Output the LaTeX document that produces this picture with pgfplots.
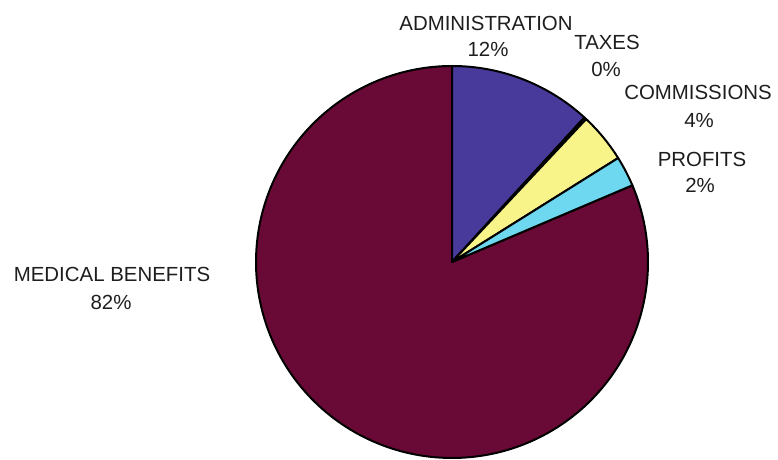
\documentclass[border=0pt]{standalone}
\usepackage{pgfplots}
\pgfplotsset{compat=1.18}
\usepackage{fontspec}
\setmainfont{Liberation Sans}
\definecolor{cMed}{HTML}{680A35}
\definecolor{cAdm}{HTML}{483A9A}
\definecolor{cCom}{HTML}{F8F48A}
\definecolor{cPro}{HTML}{6ED8F0}
\definecolor{cTxt}{HTML}{1E1E1E}
% slice values (percent)
\def\vAdm{11.8}
\def\vTax{0.2}
\def\vCom{4.1}
\def\vPro{2.5}
\def\vMed{81.4}
\pgfmathsetmacro{\aA}{90}
\pgfmathsetmacro{\aB}{\aA-3.6*\vAdm}
\pgfmathsetmacro{\aC}{\aB-3.6*\vTax}
\pgfmathsetmacro{\aD}{\aC-3.6*\vCom}
\pgfmathsetmacro{\aE}{\aD-3.6*\vPro}
\pgfmathsetmacro{\aF}{\aE-3.6*\vMed}
\def\cx{452}\def\cy{198}\def\rr{196}
\begin{document}
\begin{tikzpicture}
\begin{axis}[width=778bp, height=460bp, scale only axis,
  xmin=0, xmax=778, ymin=0, ymax=460, hide axis, clip=false]
\path (rel axis cs:0,0) rectangle (rel axis cs:1,1);
\addplot[fill=cMed, draw=black, line width=2pt, line join=round, domain=\aF:\aE, samples=200, variable=\t]
  ({\cx+\rr*cos(\t)},{\cy+\rr*sin(\t)}) -- (axis cs:\cx,\cy) -- cycle;
\addplot[fill=cAdm, draw=black, line width=2pt, line join=round, domain=\aB:\aA, samples=40, variable=\t]
  ({\cx+\rr*cos(\t)},{\cy+\rr*sin(\t)}) -- (axis cs:\cx,\cy) -- cycle;
\addplot[fill=cAdm, draw=black, line width=2pt, line join=round, domain=\aC:\aB, samples=3, variable=\t]
  ({\cx+\rr*cos(\t)},{\cy+\rr*sin(\t)}) -- (axis cs:\cx,\cy) -- cycle;
\addplot[fill=cCom, draw=black, line width=2pt, line join=round, domain=\aD:\aC, samples=20, variable=\t]
  ({\cx+\rr*cos(\t)},{\cy+\rr*sin(\t)}) -- (axis cs:\cx,\cy) -- cycle;
\addplot[fill=cPro, draw=black, line width=2pt, line join=round, domain=\aE:\aD, samples=15, variable=\t]
  ({\cx+\rr*cos(\t)},{\cy+\rr*sin(\t)}) -- (axis cs:\cx,\cy) -- cycle;
\begin{scope}[every node/.style={anchor=base, text=cTxt, font=\fontsize{20.5}{24}\selectfont, inner sep=0pt}]
\node at (axis cs:486,429) {ADMINISTRATION};
\node at (axis cs:488,403) {12\%};
\node at (axis cs:607,410) {TAXES};
\node at (axis cs:606,383) {0\%};
\node at (axis cs:698,360) {COMMISSIONS};
\node at (axis cs:699,332) {4\%};
\node at (axis cs:702,293) {PROFITS};
\node at (axis cs:700,267) {2\%};
\node at (axis cs:112,178) {MEDICAL BENEFITS};
\node at (axis cs:111,150) {82\%};
\end{scope}
\end{axis}
\end{tikzpicture}
\end{document}
